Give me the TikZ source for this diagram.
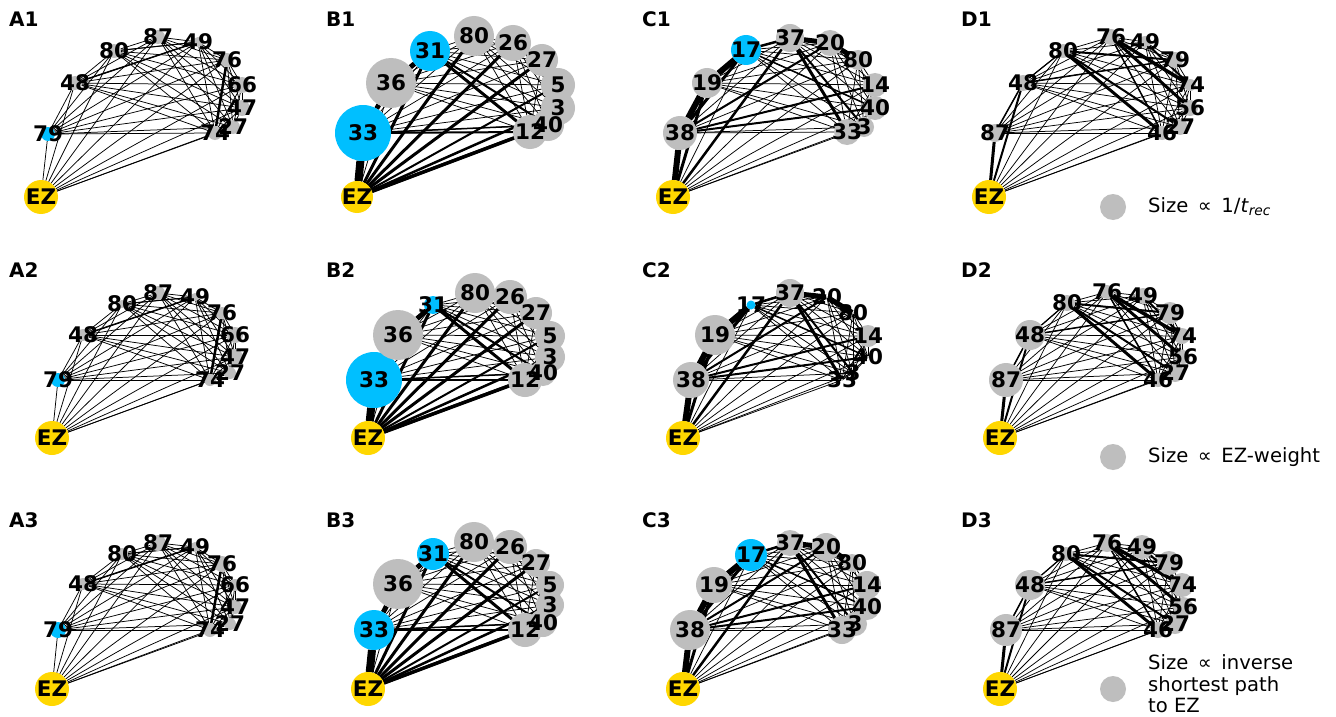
\documentclass[tikz,border=0pt]{standalone}
\usepackage{fontspec}
\setmainfont{DejaVu Sans}
\pgfdeclarelayer{back}
\pgfdeclarelayer{bg}
\pgfsetlayers{back,bg,main}
\definecolor{ezc}{HTML}{FFD700}
\definecolor{bluec}{HTML}{00BFFF}
\definecolor{grayc}{HTML}{BEBEBE}
\newcommand\labfont{\fontsize{21.5}{25}\selectfont\bfseries}
\newcommand\plabfont{\fontsize{20}{24}\selectfont\bfseries}
\newcommand\legfont{\fontsize{19.6}{21.5}\selectfont}
\tikzset{
  nd/.style={circle, inner sep=0pt, outer sep=0pt, draw=none},
  lab/.style={inner sep=0pt, font=\labfont},
  plab/.style={anchor=west, inner sep=0pt, font=\plabfont},
  legtext/.style={anchor=west, inner sep=0pt, font=\legfont, align=left},
  edge/.style={line width=0.75pt, black},
}
\newcommand\panelnet[3]{%
  \foreach \n/\x/\y/\r/\c in {#2}{\node[nd,fill=\c,minimum size={2*\r pt}] (#1-\n) at (\x,\y) {};}%
  \begin{pgfonlayer}{bg}
  \foreach \a/\xa/\ya/\ra/\ca [count=\i] in {#2}{%
    \foreach \b/\xb/\yb/\rb/\cb [count=\j] in {#2}{%
      \ifnum\j>\i \draw[edge] (#1-\a) -- (#1-\b);\fi}}%
  \foreach \a/\b/\w in {#3}{\draw[line width=\w pt] (#1-\a) -- (#1-\b);}%
  \end{pgfonlayer}
  \foreach \n/\x/\y/\r/\c in {#2}{\node[lab] (#1-\n-t) at (\x,\y) {\n};}%
}
\begin{document}
\begin{tikzpicture}[x=1pt,y=-1pt]
\useasboundingbox (0,0) rectangle (1336,717);
\begin{pgfonlayer}{back}
\fill[white] (0,0) rectangle (1336,717);
\end{pgfonlayer}
% ---------------- A ----------------
\panelnet{A1}{EZ/41/197/17/ezc, 79/48/134/7/bluec, 48/75/83/7/grayc, 80/114/51/7/grayc, 87/158/37/7/grayc, 49/198/42/5/grayc, 76/227/60/7/grayc, 66/242/85/8/grayc, 47/242/108/8/grayc, 27/233/127/7/grayc, 74/215/133/7/grayc}{76/74/2.5, 48/49/1.5, 80/49/1}
\panelnet{A2}{EZ/52/438/17/ezc, 79/58/380/7/bluec, 48/83/335/6/grayc, 80/122/304/4/grayc, 87/158/293/7/grayc, 49/195/297/4/grayc, 76/222/313/6/grayc, 66/235/335/8/grayc, 47/235/357/8/grayc, 27/230/373/6/grayc, 74/210/380/6/grayc}{76/74/2.5, 48/49/1.5, 80/49/1}
\panelnet{A3}{EZ/52/689/17/ezc, 79/58/630/8/bluec, 48/83/584/6/grayc, 80/122/554/6/grayc, 87/158/543/8/grayc, 49/195/547/5/grayc, 76/222/564/8/grayc, 66/235/585/6/grayc, 47/235/607/7/grayc, 27/230/624/6/grayc, 74/210/630/7/grayc}{76/74/2.5, 48/49/1.5, 80/49/1}
% ---------------- B ----------------
\panelnet{B1}{EZ/357/197/16/ezc, 33/363/133/28/bluec, 36/391/83/25/grayc, 31/430/51/20/bluec, 80/474/36/20/grayc, 26/513/43/18/grayc, 27/542/60/16/grayc, 5/558/85/17/grayc, 3/558/108/17/grayc, 40/548/125/16/grayc, 12/530/132/17/grayc}{EZ/33/8, 33/36/5, 36/31/5, EZ/31/3, EZ/80/3, EZ/26/3, EZ/27/3, EZ/5/2, EZ/3/2.5, EZ/40/3, EZ/12/3.5, 31/12/3, 31/40/2, 33/12/2, 33/40/1.5}
\panelnet{B2}{EZ/368/438/17/ezc, 33/374/380/28/bluec, 36/398/335/25/grayc, 31/433/305/9/bluec, 80/475/293/20/grayc, 26/510/297/17/grayc, 27/536/313/16/grayc, 5/550/336/15/grayc, 3/550/357/15/grayc, 40/543/373/13/grayc, 12/525/380/17/grayc}{EZ/33/8, 33/36/4, 36/31/5, EZ/31/3, EZ/80/3, EZ/26/3, EZ/27/3, EZ/5/2, EZ/3/2.5, EZ/40/3, EZ/12/3.5, 31/12/3, 31/40/2, 33/12/2, 33/40/1.5}
\panelnet{B3}{EZ/368/689/17/ezc, 33/374/630/20/bluec, 36/398/584/25/grayc, 31/433/554/16/bluec, 80/474/542/20/grayc, 26/510/547/17/grayc, 27/536/563/14/grayc, 5/550/585/14/grayc, 3/550/605/14/grayc, 40/543/623/14/grayc, 12/525/630/17/grayc}{EZ/33/8, 33/36/5, 36/31/5, EZ/31/3, EZ/80/3, EZ/26/3, EZ/27/3, EZ/5/2, EZ/3/2.5, EZ/40/3, EZ/12/3.5, 31/12/3, 31/40/2, 33/12/2, 33/40/1.5}
% ---------------- C ----------------
\panelnet{C1}{EZ/673/197/17/ezc, 38/680/133/17/grayc, 19/707/83/15/grayc, 17/746/50/15/bluec, 37/790/38/14/grayc, 20/830/43/13/grayc, 80/858/60/10/grayc, 14/875/85/12/grayc, 40/875/108/12/grayc, 3/864/127/10/grayc, 33/847/132/13/grayc}{EZ/38/6, EZ/19/3, 38/19/6, 19/17/6, 38/17/3, 17/37/2.5, 37/20/5, 20/80/5, 37/33/3, 37/3/2, EZ/37/2.5, 38/14/2, 38/40/2, 38/20/2, 17/40/1.5}
\panelnet{C2}{EZ/683/438/17/ezc, 38/691/380/18/grayc, 19/715/335/20/grayc, 17/751/305/4.5/bluec, 37/790/293/14/grayc, 20/827/297/1/grayc, 80/853/313/1/grayc, 14/868/336/11/grayc, 40/868/357/1/grayc, 3/853/373/1/grayc, 33/842/380/1/grayc}{EZ/38/6, EZ/19/3, 38/19/6, 19/17/6, 38/17/3, 17/37/2.5, 37/20/5, 20/80/5, 37/33/3, 37/3/2, EZ/37/2.5, 38/14/2, 38/40/2, 38/20/2, 17/40/1.5}
\panelnet{C3}{EZ/683/689/17/ezc, 38/690/630/20/grayc, 19/714/585/18/grayc, 17/751/555/16/bluec, 37/790/543/13/grayc, 20/826/547/14/grayc, 80/852/563/9/grayc, 14/867/585/14/grayc, 40/867/607/13/grayc, 3/855/624/12/grayc, 33/842/630/14/grayc}{EZ/38/6, EZ/19/3, 38/19/6, 19/17/6, 38/17/3, 17/37/2.5, 37/20/5, 20/80/5, 37/33/3, 37/3/2, EZ/37/2.5, 38/14/2, 38/40/2, 38/20/2, 17/40/1.5}
% ---------------- D ----------------
\panelnet{D1}{EZ/989/197/17/ezc, 87/995/133/9/grayc, 48/1023/83/8/grayc, 80/1063/51/7/grayc, 76/1111/37/8/grayc, 49/1145/42/6/grayc, 79/1175/60/8/grayc, 74/1190/85/6/grayc, 56/1190/108/8/grayc, 27/1180/127/8/grayc, 46/1162/133/7/grayc}{EZ/87/3, EZ/48/2, 87/48/1.5, 80/46/3, 80/27/2, 76/74/3.5, 76/56/3, 49/74/2, 80/79/2, 48/79/1.5, 76/46/1.5, 48/80/1.2}
\panelnet{D2}{EZ/1000/438/17/ezc, 87/1006/380/17/grayc, 48/1030/335/15/grayc, 80/1067/303/8/grayc, 76/1107/292/7/grayc, 49/1143/296/8/grayc, 79/1170/313/11/grayc, 74/1182/336/8/grayc, 56/1183/357/7/grayc, 27/1175/373/9/grayc, 46/1158/380/7/grayc}{EZ/87/3, EZ/48/2, 87/48/1.5, 80/46/3, 80/27/2, 76/74/3.5, 76/56/3, 49/74/2, 80/79/2, 48/79/1.5, 76/46/1.5, 48/80/1.2}
\panelnet{D3}{EZ/1000/689/17/ezc, 87/1006/630/16/grayc, 48/1030/585/15/grayc, 80/1066/554/7/grayc, 76/1107/543/9/grayc, 49/1142/547/12/grayc, 79/1169/563/12/grayc, 74/1182/585/12/grayc, 56/1183/607/10/grayc, 27/1175/624/10/grayc, 46/1158/630/8/grayc}{EZ/87/3, EZ/48/2, 87/48/1.5, 80/46/3, 80/27/2, 76/74/3.5, 76/56/3, 49/74/2, 80/79/2, 48/79/1.5, 76/46/1.5, 48/80/1.2}
% ---------------- panel labels ----------------
\node[plab] (pA1) at (9,19) {A1};
\node[plab] (pB1) at (326,19) {B1};
\node[plab] (pC1) at (642,19) {C1};
\node[plab] (pD1) at (961,19) {D1};
\node[plab] (pA2) at (9,270) {A2};
\node[plab] (pB2) at (326,270) {B2};
\node[plab] (pC2) at (642,270) {C2};
\node[plab] (pD2) at (961,270) {D2};
\node[plab] (pA3) at (9,520) {A3};
\node[plab] (pB3) at (326,520) {B3};
\node[plab] (pC3) at (642,520) {C3};
\node[plab] (pD3) at (961,520) {D3};
% ---------------- legends ----------------
\node[nd, fill=grayc, minimum size=26pt] (L1) at (1113,207) {};
\node[legtext] (L1t) at (1148,207) {Size \,∝\, 1/\textit{t}\textsubscript{\textit{rec}}};
\node[nd, fill=grayc, minimum size=26pt] (L2) at (1113,457) {};
\node[legtext] (L2t) at (1148,457) {Size \,∝\, EZ-weight};
\node[nd, fill=grayc, minimum size=26pt] (L3) at (1113,689) {};
\node[legtext] (L3t) at (1148,684) {Size \,∝\, inverse\\shortest path\\to EZ};
\end{tikzpicture}
\end{document}
